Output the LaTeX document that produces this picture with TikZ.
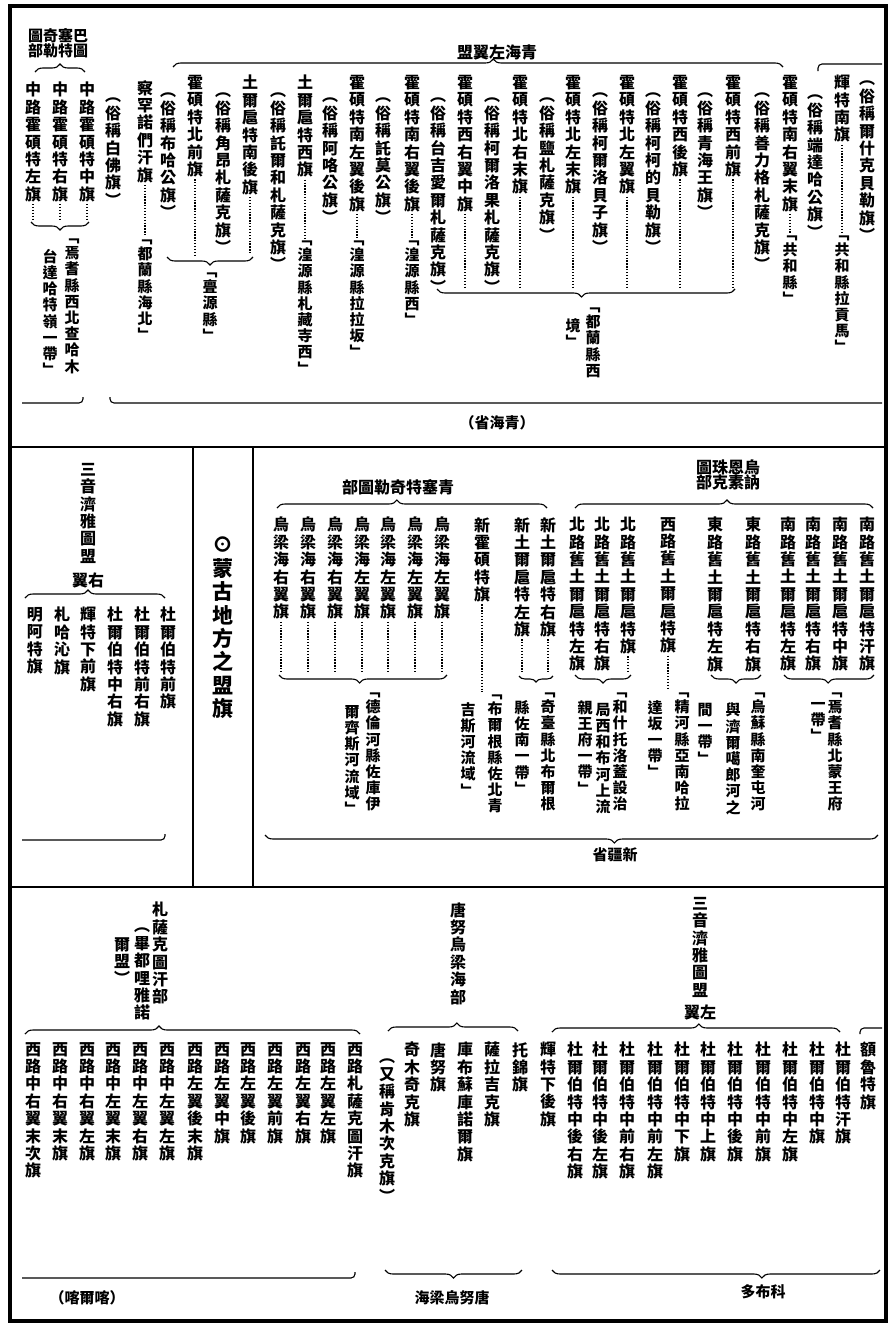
\documentclass[tikz,border=0pt]{standalone}
\usepackage{fontspec}
\setmainfont{Noto Sans CJK TC}
\usetikzlibrary{decorations.pathreplacing}

% vertical column: one character under the other
\newcommand{\vcol}[1]{\vbox{\lineskiplimit=-\maxdimen\vcolx#1\relax}}
\def\vcolx#1{\ifx#1\relax\else\vcolc{#1}\expandafter\vcolx\fi}
\def\vcolc#1{\setbox0=\hbox to 1em{\hss#1\hss}%
  \if#1︵\ht0=.42em\fi\if#1﹁\ht0=.42em\fi\box0}

\begin{document}
\begin{tikzpicture}[
    x=1pt, y=-1pt,
    banner/.style={anchor=north, inner sep=0pt, font=\fontsize{16}{17.4}\selectfont\bfseries},
    place/.style={anchor=north, inner sep=0pt, font=\fontsize{15}{16.2}\selectfont\bfseries},
    header/.style={inner sep=0pt, align=center, font=\fontsize{16}{15.5}\selectfont\bfseries},
    prov/.style={inner sep=0pt, font=\fontsize{15}{15}\selectfont\bfseries},
    leader/.style={line width=1.3pt, dash pattern=on 1.3pt off 1.6pt, shorten <=2pt},
    brc/.style={decorate, decoration={brace, amplitude=8pt, aspect=#1}, line width=1.1pt},
    brc/.default=0.5,
    brk/.style={rounded corners=4pt, line width=1.1pt},
    rule/.style={line width=1.6pt}
]
    \useasboundingbox (0,0) rectangle (893,1325);
    \draw[line width=3.5pt] (10,6) rectangle (886,1321);

    % ---------- Qinghai ----------
    \node[header, font=\fontsize{15}{15}\selectfont\bfseries] (hBatu) at (58,43) {圖奇塞巴\\部勒特圖};
    \draw[brc] (35,72) -- (85,72);
    \node[banner] (qb1) at (87,82) {\vcol{中路霍碩特中旗}};
    \node[banner] (qb2) at (60,82) {\vcol{中路霍碩特右旗}};
    \node[banner] (qb3) at (33,82) {\vcol{中路霍碩特左旗}};
    \coordinate (qk0) at (60,221);
    \draw[leader] (qb1.south) -- (qb1.south |- qk0);
    \draw[leader] (qb2.south) -- (qb2.south |- qk0);
    \draw[leader] (qb3.south) -- (qb3.south |- qk0);
    \draw[brc] (89,222) -- (31,222);
    \node[place] (qp1) at (72,236) {\vcol{﹁焉耆縣西北查哈木}};
    \node[place] (qp2) at (50,249) {\vcol{台達哈特嶺一帶﹂}};

    \node[banner] (qb4) at (145,80) {\vcol{察罕諾們汗旗}};
    \node[place] (qp3) at (145,237) {\vcol{﹁都蘭縣海北﹂}};
    \draw[leader] (qb4.south) -- (qp3.north);
    \node[banner] (qn1) at (113,95) {\vcol{︵俗稱白佛旗︶}};

    \node[header] (hZuoyi) at (497,52) {盟翼左海青};
    \draw[brc=0.525] (173,67) -- (783,67);
    \draw[brk] (818,71) -- (818,64) -- (882,64);

    \node[banner] (qn2) at (168,90) {\vcol{︵俗稱布哈公旗︶}};
    \node[banner] (qb5) at (195,75) {\vcol{霍碩特北前旗}};
    \node[banner] (qn3) at (223,90) {\vcol{︵俗稱角昂札薩克旗︶}};
    \node[banner] (qb6) at (250,75) {\vcol{土爾扈特南後旗}};
    \coordinate (qk1) at (210,255);
    \draw[leader] (qb5.south) -- (qb5.south |- qk1);
    \draw[leader] (qb6.south) -- (qb6.south |- qk1);
    \draw[brc] (253,257) -- (167,257);
    \node[place] (qp4) at (210,270) {\vcol{﹁亹源縣﹂}};

    \node[banner] (qn4) at (278,90) {\vcol{︵俗稱託爾和札薩克旗︶}};
    \node[banner] (qb7) at (305,75) {\vcol{土爾扈特西旗}};
    \node[place] (qp5) at (305,238) {\vcol{﹁湟源縣札藏寺西﹂}};
    \draw[leader] (qb7.south) -- (qp5.north);
    \node[banner] (qn5) at (330,95) {\vcol{︵俗稱阿咯公旗︶}};
    \node[banner] (qb8) at (357,75) {\vcol{霍碩特南左翼後旗}};
    \node[place] (qp6) at (357,238) {\vcol{﹁湟源縣拉拉坂﹂}};
    \draw[leader] (qb8.south) -- (qp6.north);
    \node[banner] (qn6) at (383,95) {\vcol{︵俗稱託莫公旗︶}};
    \node[banner] (qb9) at (412,75) {\vcol{霍碩特南右翼後旗}};
    \node[place] (qp7) at (412,238) {\vcol{﹁湟源縣西﹂}};
    \draw[leader] (qb9.south) -- (qp7.north);

    \node[banner] (qn7) at (438,95) {\vcol{︵俗稱台吉愛爾札薩克旗︶}};
    \node[banner] (qb10) at (465,75) {\vcol{霍碩特西右翼中旗}};
    \node[banner] (qn8) at (492,95) {\vcol{︵俗稱柯爾洛果札薩克旗︶}};
    \node[banner] (qb11) at (520,75) {\vcol{霍碩特北右末旗}};
    \node[banner] (qn9) at (547,95) {\vcol{︵俗稱鹽札薩克旗︶}};
    \node[banner] (qb12) at (573,75) {\vcol{霍碩特北左末旗}};
    \node[banner] (qn10) at (600,90) {\vcol{︵俗稱柯爾洛貝子旗︶}};
    \node[banner] (qb13) at (627,75) {\vcol{霍碩特北左翼旗}};
    \node[banner] (qn11) at (653,90) {\vcol{︵俗稱柯柯的貝勒旗︶}};
    \node[banner] (qb14) at (680,75) {\vcol{霍碩特西後旗}};
    \node[banner] (qn12) at (705,90) {\vcol{︵俗稱青海王旗︶}};
    \node[banner] (qb15) at (733,75) {\vcol{霍碩特西前旗}};
    \coordinate (qk2) at (582,287);
    \draw[leader] (qb10.south) -- (qb10.south |- qk2);
    \draw[leader] (qb11.south) -- (qb11.south |- qk2);
    \draw[leader] (qb12.south) -- (qb12.south |- qk2);
    \draw[leader] (qb13.south) -- (qb13.south |- qk2);
    \draw[leader] (qb14.south) -- (qb14.south |- qk2);
    \draw[leader] (qb15.south) -- (qb15.south |- qk2);
    \draw[brc=0.515] (735,289) -- (437,289);
    \node[place] (qp8) at (593,305) {\vcol{﹁都蘭縣西}};
    \node[place] (qp9) at (573,318) {\vcol{境﹂}};

    \node[banner] (qn13) at (762,90) {\vcol{︵俗稱善力格札薩克旗︶}};
    \node[banner] (qb16) at (790,75) {\vcol{霍碩特南右翼末旗}};
    \node[place] (qp10) at (790,233) {\vcol{﹁共和縣﹂}};
    \draw[leader] (qb16.south) -- (qp10.north);
    \node[banner] (qn14) at (815,92) {\vcol{︵俗稱端達哈公旗︶}};
    \node[banner] (qb17) at (842,75) {\vcol{輝特南旗}};
    \node[place] (qp11) at (842,233) {\vcol{﹁共和縣拉貢馬﹂}};
    \draw[leader] (qb17.south) -- (qp11.north);
    \node[banner] (qn15) at (867,78) {\vcol{︵俗稱爾什克貝勒旗︶}};

    \draw[brk] (22,403) -- (83,403) -- (83,397);
    \draw[brk] (110,397) -- (110,403) -- (882,403);
    \node[prov] (sQinghai) at (497,423) {（省海青）};

    % panel rules
    \draw[rule] (10,447) -- (886,447);
    \draw[rule] (10,887) -- (886,887);
    \draw[rule] (193,447) -- (193,887);
    \draw[rule] (253,447) -- (253,887);

    % ---------- title strip ----------
    \node[banner, font=\fontsize{21}{23.4}\selectfont\bfseries] (hMeng) at (223,537) {\vcol{⊙蒙古地方之盟旗}};

    % ---------- Xinjiang ----------
    \node[banner] (hSyR) at (88,463) {\vcol{三音濟雅圖盟}};
    \node[header] (hSyRb) at (88,580) {翼右};
    \draw[brc=0.45] (25,598) -- (165,598);
    \node[banner] (xb1) at (168,607) {\vcol{杜爾伯特前旗}};
    \node[banner] (xb2) at (142,607) {\vcol{杜爾伯特前右旗}};
    \node[banner] (xb3) at (115,607) {\vcol{杜爾伯特中右旗}};
    \node[banner] (xb4) at (88,607) {\vcol{輝特下前旗}};
    \node[banner] (xb5) at (62,607) {\vcol{札哈沁旗}};
    \node[banner] (xb6) at (35,607) {\vcol{明阿特旗}};
    \draw[brk] (22,840) -- (165,840) -- (165,834);

    \node[header] (hQs) at (398,487) {部圖勒奇特塞青};
    \draw[brc=0.444] (277,508) -- (547,508);
    \node[header] (hWn) at (728,475) {圖珠恩烏\\部克素訥};
    \draw[brc=0.51] (575,508) -- (873,508);

    \node[banner] (xb7) at (442,517) {\vcol{烏梁海左翼旗}};
    \node[banner] (xb8) at (415,517) {\vcol{烏梁海左翼旗}};
    \node[banner] (xb9) at (388,517) {\vcol{烏梁海左翼旗}};
    \node[banner] (xb10) at (362,517) {\vcol{烏梁海左翼旗}};
    \node[banner] (xb11) at (335,517) {\vcol{烏梁海右翼旗}};
    \node[banner] (xb12) at (308,517) {\vcol{烏梁海右翼旗}};
    \node[banner] (xb13) at (281,517) {\vcol{烏梁海右翼旗}};
    \coordinate (xk1) at (360,673);
    \draw[leader] (xb7.south) -- (xb7.south |- xk1);
    \draw[leader] (xb8.south) -- (xb8.south |- xk1);
    \draw[leader] (xb9.south) -- (xb9.south |- xk1);
    \draw[leader] (xb10.south) -- (xb10.south |- xk1);
    \draw[leader] (xb11.south) -- (xb11.south |- xk1);
    \draw[leader] (xb12.south) -- (xb12.south |- xk1);
    \draw[leader] (xb13.south) -- (xb13.south |- xk1);
    \draw[brc=0.52] (447,675) -- (279,675);
    \node[place] (xp1) at (373,690) {\vcol{﹁德倫河縣佐庫伊}};
    \node[place] (xp2) at (352,705) {\vcol{爾齊斯河流域﹂}};

    \node[banner] (xb14) at (482,517) {\vcol{新霍碩特旗}};
    \node[place] (xp3) at (495,692) {\vcol{﹁布爾根縣佐北青}};
    \node[place] (xp4) at (468,702) {\vcol{吉斯河流域﹂}};
    \draw[leader] (xb14.south) -- (xb14.south |- xp3.north);

    \node[banner] (xb15) at (548,517) {\vcol{新土爾扈特右旗}};
    \node[banner] (xb16) at (522,517) {\vcol{新土爾扈特左旗}};
    \draw[leader] (xb15.south) -- (xb15.south |- xk1);
    \draw[leader] (xb16.south) -- (xb16.south |- xk1);
    \draw[brc, decoration={amplitude=6pt}] (553,676) -- (519,676);
    \node[place] (xp5) at (548,690) {\vcol{﹁奇臺縣北布爾根}};
    \node[place] (xp6) at (522,700) {\vcol{縣佐南一帶﹂}};

    \node[banner] (xb17) at (628,517) {\vcol{北路舊土爾扈特旗}};
    \node[banner] (xb18) at (602,517) {\vcol{北路舊土爾扈特右旗}};
    \node[banner] (xb19) at (577,517) {\vcol{北路舊土爾扈特左旗}};
    \draw[leader] (xb17.south) -- (xb17.south |- xk1);
    \draw[brc] (631,675) -- (575,675);
    \node[place] (xp7) at (620,690) {\vcol{﹁和什托洛蓋設治}};
    \node[place] (xp8) at (603,703) {\vcol{局西和布河上流}};
    \node[place] (xp9) at (585,700) {\vcol{親王府一帶﹂}};

    \node[banner] (xb20) at (668,517) {\vcol{西路舊土爾扈特旗}};
    \node[place] (xp10) at (682,690) {\vcol{﹁精河縣亞南哈拉}};
    \node[place] (xp11) at (655,700) {\vcol{達坂一帶﹂}};
    \draw[leader] (xb20.south) -- (xb20.south |- xp10.north);

    \node[banner] (xb21) at (753,517) {\vcol{東路舊土爾扈特右旗}};
    \node[banner] (xb22) at (715,517) {\vcol{東路舊土爾扈特左旗}};
    \draw[brc] (761,675) -- (711,675);
    \node[place] (xp12) at (758,690) {\vcol{﹁烏蘇縣南奎屯河}};
    \node[place] (xp13) at (733,703) {\vcol{與濟爾噶郎河之}};
    \node[place] (xp14) at (705,703) {\vcol{間一帶﹂}};

    \node[banner] (xb23) at (867,517) {\vcol{南路舊土爾扈特汗旗}};
    \node[banner] (xb24) at (840,517) {\vcol{南路舊土爾扈特中旗}};
    \node[banner] (xb25) at (813,517) {\vcol{南路舊土爾扈特右旗}};
    \node[banner] (xb26) at (788,517) {\vcol{南路舊土爾扈特左旗}};
    \draw[brc=0.51] (874,675) -- (784,675);
    \node[place] (xp15) at (835,690) {\vcol{﹁焉耆縣北蒙王府}};
    \node[place] (xp16) at (818,702) {\vcol{一帶﹂}};

    \draw[brc=0.43] (878,835) -- (265,835);
    \node[prov] (sXinjiang) at (615,855) {省疆新};

    % ---------- Khalkha, Tannu Uriankhai, Kobdo ----------
    \node[banner] (hZs) at (160,902) {\vcol{札薩克圖汗部}};
    \node[banner] (hZsa) at (142,925) {\vcol{︵畢都哩雅諾}};
    \node[banner] (hZsb) at (122,937) {\vcol{爾盟︶}};
    \draw[brc=0.40] (25,1034) -- (360,1034);
    \node[banner] (kb1) at (355,1042) {\vcol{西路札薩克圖汗旗}};
    \node[banner] (kb2) at (328,1042) {\vcol{西路左翼左旗}};
    \node[banner] (kb3) at (303,1042) {\vcol{西路左翼右旗}};
    \node[banner] (kb4) at (275,1042) {\vcol{西路左翼前旗}};
    \node[banner] (kb5) at (248,1042) {\vcol{西路左翼後旗}};
    \node[banner] (kb6) at (222,1042) {\vcol{西路左翼中旗}};
    \node[banner] (kb7) at (195,1042) {\vcol{西路左翼後末旗}};
    \node[banner] (kb8) at (167,1042) {\vcol{西路中左翼左旗}};
    \node[banner] (kb9) at (140,1042) {\vcol{西路中左翼右旗}};
    \node[banner] (kb10) at (113,1042) {\vcol{西路中左翼末旗}};
    \node[banner] (kb11) at (87,1042) {\vcol{西路中右翼左旗}};
    \node[banner] (kb12) at (60,1042) {\vcol{西路中右翼末旗}};
    \node[banner] (kb13) at (33,1042) {\vcol{西路中右翼末次旗}};
    \draw[brk] (22,1278) -- (355,1278) -- (355,1272);
    \node[prov] (sKhalkha) at (87,1298) {（喀爾喀）};

    \node[banner] (hTn) at (458,902) {\vcol{唐努烏梁海部}};
    \draw[brc=0.53] (388,1031) -- (518,1031);
    \node[banner] (tb1) at (520,1042) {\vcol{托錦旗}};
    \node[banner] (tb2) at (492,1042) {\vcol{薩拉吉克旗}};
    \node[banner] (tb3) at (465,1042) {\vcol{庫布蘇庫諾爾旗}};
    \node[banner] (tb4) at (438,1042) {\vcol{唐努旗}};
    \node[banner] (tb5) at (412,1042) {\vcol{奇木奇克旗}};
    \node[banner] (tb6) at (387,1056) {\vcol{︵又稱肯木次克旗︶}};
    \draw[brc] (522,1270) -- (385,1270);
    \node[prov] (sTannu) at (452,1298) {海梁烏努唐};

    \node[banner] (hSyL) at (700,897) {\vcol{三音濟雅圖盟}};
    \node[header] (hSyLb) at (700,1012) {翼左};
    \draw[brc=0.51] (552,1032) -- (840,1032);
    \draw[brk] (860,1034) -- (860,1028) -- (882,1028);
    \node[banner] (db1) at (868,1042) {\vcol{額魯特旗}};
    \node[banner] (db2) at (843,1042) {\vcol{杜爾伯特汗旗}};
    \node[banner] (db3) at (817,1042) {\vcol{杜爾伯特中旗}};
    \node[banner] (db4) at (790,1042) {\vcol{杜爾伯特中左旗}};
    \node[banner] (db5) at (763,1042) {\vcol{杜爾伯特中前旗}};
    \node[banner] (db6) at (735,1042) {\vcol{杜爾伯特中後旗}};
    \node[banner] (db7) at (708,1042) {\vcol{杜爾伯特中上旗}};
    \node[banner] (db8) at (682,1042) {\vcol{杜爾伯特中下旗}};
    \node[banner] (db9) at (655,1042) {\vcol{杜爾伯特中前左旗}};
    \node[banner] (db10) at (627,1042) {\vcol{杜爾伯特中前右旗}};
    \node[banner] (db11) at (600,1042) {\vcol{杜爾伯特中後左旗}};
    \node[banner] (db12) at (575,1042) {\vcol{杜爾伯特中後右旗}};
    \node[banner] (db13) at (548,1042) {\vcol{輝特下後旗}};
    \draw[brc=0.36] (880,1270) -- (552,1270);
    \node[prov] (sKobdo) at (763,1292) {多布科};
\end{tikzpicture}
\end{document}
